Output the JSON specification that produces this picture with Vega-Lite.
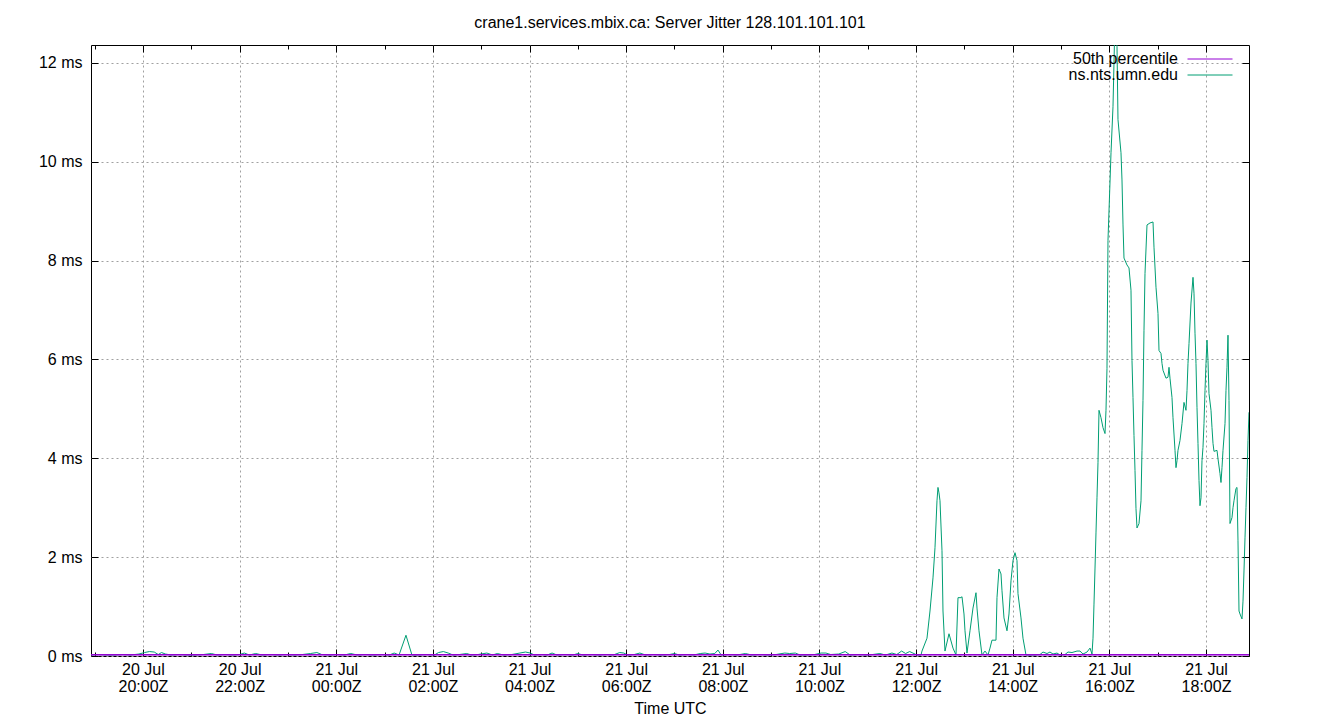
{
 "$schema": "https://vega.github.io/schema/vega-lite/v6.json",
 "width": 1158,
 "height": 611,
 "autosize": "none",
 "padding": {"left": 91, "top": 45, "right": 91, "bottom": 64},
 "background": "white",
 "title": {"text": "crane1.services.mbix.ca: Server Jitter 128.101.101.101", "font": "Liberation Sans", "fontSize": 16, "fontWeight": "normal", "anchor": "middle", "offset": 14, "color": "black"},
 "config": {
  "view": {"stroke": "black", "strokeWidth": 1},
  "font": "Liberation Sans",
  "axis": {"labelFont": "Liberation Sans", "labelFontSize": 16, "labelColor": "black", "titleFont": "Liberation Sans", "titleFontSize": 16, "titleFontWeight": "normal", "titleColor": "black", "tickColor": "black", "domain": false, "labelFlush": false, "labelOverlap": false, "labelBound": false}
 },
 "datasets": {
  "jitter": [
   {"t": "2021-07-20T18:56:00Z", "v": 0.02, "s": "ns.nts.umn.edu"},
   {"t": "2021-07-20T19:05:00Z", "v": 0.03, "s": "ns.nts.umn.edu"},
   {"t": "2021-07-20T19:15:00Z", "v": 0.02, "s": "ns.nts.umn.edu"},
   {"t": "2021-07-20T19:25:00Z", "v": 0.02, "s": "ns.nts.umn.edu"},
   {"t": "2021-07-20T19:35:00Z", "v": 0.03, "s": "ns.nts.umn.edu"},
   {"t": "2021-07-20T19:45:00Z", "v": 0.02, "s": "ns.nts.umn.edu"},
   {"t": "2021-07-20T19:55:00Z", "v": 0.04, "s": "ns.nts.umn.edu"},
   {"t": "2021-07-20T20:02:00Z", "v": 0.07, "s": "ns.nts.umn.edu"},
   {"t": "2021-07-20T20:08:00Z", "v": 0.09, "s": "ns.nts.umn.edu"},
   {"t": "2021-07-20T20:14:00Z", "v": 0.08, "s": "ns.nts.umn.edu"},
   {"t": "2021-07-20T20:19:00Z", "v": 0.03, "s": "ns.nts.umn.edu"},
   {"t": "2021-07-20T20:23:00Z", "v": 0.07, "s": "ns.nts.umn.edu"},
   {"t": "2021-07-20T20:28:00Z", "v": 0.04, "s": "ns.nts.umn.edu"},
   {"t": "2021-07-20T20:35:00Z", "v": 0.02, "s": "ns.nts.umn.edu"},
   {"t": "2021-07-20T20:45:00Z", "v": 0.03, "s": "ns.nts.umn.edu"},
   {"t": "2021-07-20T20:55:00Z", "v": 0.02, "s": "ns.nts.umn.edu"},
   {"t": "2021-07-20T21:05:00Z", "v": 0.02, "s": "ns.nts.umn.edu"},
   {"t": "2021-07-20T21:15:00Z", "v": 0.03, "s": "ns.nts.umn.edu"},
   {"t": "2021-07-20T21:25:00Z", "v": 0.05, "s": "ns.nts.umn.edu"},
   {"t": "2021-07-20T21:32:00Z", "v": 0.02, "s": "ns.nts.umn.edu"},
   {"t": "2021-07-20T21:42:00Z", "v": 0.03, "s": "ns.nts.umn.edu"},
   {"t": "2021-07-20T21:52:00Z", "v": 0.02, "s": "ns.nts.umn.edu"},
   {"t": "2021-07-20T22:00:00Z", "v": 0.03, "s": "ns.nts.umn.edu"},
   {"t": "2021-07-20T22:06:00Z", "v": 0.06, "s": "ns.nts.umn.edu"},
   {"t": "2021-07-20T22:12:00Z", "v": 0.02, "s": "ns.nts.umn.edu"},
   {"t": "2021-07-20T22:20:00Z", "v": 0.05, "s": "ns.nts.umn.edu"},
   {"t": "2021-07-20T22:28:00Z", "v": 0.02, "s": "ns.nts.umn.edu"},
   {"t": "2021-07-20T22:38:00Z", "v": 0.03, "s": "ns.nts.umn.edu"},
   {"t": "2021-07-20T22:48:00Z", "v": 0.02, "s": "ns.nts.umn.edu"},
   {"t": "2021-07-20T22:58:00Z", "v": 0.03, "s": "ns.nts.umn.edu"},
   {"t": "2021-07-20T23:08:00Z", "v": 0.02, "s": "ns.nts.umn.edu"},
   {"t": "2021-07-20T23:18:00Z", "v": 0.03, "s": "ns.nts.umn.edu"},
   {"t": "2021-07-20T23:28:00Z", "v": 0.05, "s": "ns.nts.umn.edu"},
   {"t": "2021-07-20T23:36:00Z", "v": 0.07, "s": "ns.nts.umn.edu"},
   {"t": "2021-07-20T23:42:00Z", "v": 0.03, "s": "ns.nts.umn.edu"},
   {"t": "2021-07-20T23:52:00Z", "v": 0.02, "s": "ns.nts.umn.edu"},
   {"t": "2021-07-21T00:02:00Z", "v": 0.03, "s": "ns.nts.umn.edu"},
   {"t": "2021-07-21T00:10:00Z", "v": 0.02, "s": "ns.nts.umn.edu"},
   {"t": "2021-07-21T00:18:00Z", "v": 0.05, "s": "ns.nts.umn.edu"},
   {"t": "2021-07-21T00:26:00Z", "v": 0.02, "s": "ns.nts.umn.edu"},
   {"t": "2021-07-21T00:36:00Z", "v": 0.03, "s": "ns.nts.umn.edu"},
   {"t": "2021-07-21T00:46:00Z", "v": 0.02, "s": "ns.nts.umn.edu"},
   {"t": "2021-07-21T00:56:00Z", "v": 0.03, "s": "ns.nts.umn.edu"},
   {"t": "2021-07-21T01:06:00Z", "v": 0.02, "s": "ns.nts.umn.edu"},
   {"t": "2021-07-21T01:12:00Z", "v": 0.06, "s": "ns.nts.umn.edu"},
   {"t": "2021-07-21T01:18:00Z", "v": 0.02, "s": "ns.nts.umn.edu"},
   {"t": "2021-07-21T01:26:36Z", "v": 0.42, "s": "ns.nts.umn.edu"},
   {"t": "2021-07-21T01:34:00Z", "v": 0.02, "s": "ns.nts.umn.edu"},
   {"t": "2021-07-21T01:42:00Z", "v": 0.02, "s": "ns.nts.umn.edu"},
   {"t": "2021-07-21T01:52:00Z", "v": 0.03, "s": "ns.nts.umn.edu"},
   {"t": "2021-07-21T02:02:00Z", "v": 0.02, "s": "ns.nts.umn.edu"},
   {"t": "2021-07-21T02:07:00Z", "v": 0.07, "s": "ns.nts.umn.edu"},
   {"t": "2021-07-21T02:13:00Z", "v": 0.09, "s": "ns.nts.umn.edu"},
   {"t": "2021-07-21T02:19:00Z", "v": 0.06, "s": "ns.nts.umn.edu"},
   {"t": "2021-07-21T02:25:00Z", "v": 0.02, "s": "ns.nts.umn.edu"},
   {"t": "2021-07-21T02:33:00Z", "v": 0.03, "s": "ns.nts.umn.edu"},
   {"t": "2021-07-21T02:42:00Z", "v": 0.05, "s": "ns.nts.umn.edu"},
   {"t": "2021-07-21T02:48:00Z", "v": 0.02, "s": "ns.nts.umn.edu"},
   {"t": "2021-07-21T02:56:00Z", "v": 0.03, "s": "ns.nts.umn.edu"},
   {"t": "2021-07-21T03:07:00Z", "v": 0.06, "s": "ns.nts.umn.edu"},
   {"t": "2021-07-21T03:14:00Z", "v": 0.02, "s": "ns.nts.umn.edu"},
   {"t": "2021-07-21T03:20:00Z", "v": 0.05, "s": "ns.nts.umn.edu"},
   {"t": "2021-07-21T03:28:00Z", "v": 0.02, "s": "ns.nts.umn.edu"},
   {"t": "2021-07-21T03:38:00Z", "v": 0.03, "s": "ns.nts.umn.edu"},
   {"t": "2021-07-21T03:48:00Z", "v": 0.06, "s": "ns.nts.umn.edu"},
   {"t": "2021-07-21T03:55:00Z", "v": 0.08, "s": "ns.nts.umn.edu"},
   {"t": "2021-07-21T04:01:00Z", "v": 0.06, "s": "ns.nts.umn.edu"},
   {"t": "2021-07-21T04:06:00Z", "v": 0.02, "s": "ns.nts.umn.edu"},
   {"t": "2021-07-21T04:15:00Z", "v": 0.03, "s": "ns.nts.umn.edu"},
   {"t": "2021-07-21T04:22:00Z", "v": 0.02, "s": "ns.nts.umn.edu"},
   {"t": "2021-07-21T04:28:00Z", "v": 0.06, "s": "ns.nts.umn.edu"},
   {"t": "2021-07-21T04:34:00Z", "v": 0.02, "s": "ns.nts.umn.edu"},
   {"t": "2021-07-21T04:44:00Z", "v": 0.03, "s": "ns.nts.umn.edu"},
   {"t": "2021-07-21T04:54:00Z", "v": 0.02, "s": "ns.nts.umn.edu"},
   {"t": "2021-07-21T05:00:00Z", "v": 0.05, "s": "ns.nts.umn.edu"},
   {"t": "2021-07-21T05:06:00Z", "v": 0.02, "s": "ns.nts.umn.edu"},
   {"t": "2021-07-21T05:16:00Z", "v": 0.03, "s": "ns.nts.umn.edu"},
   {"t": "2021-07-21T05:26:00Z", "v": 0.02, "s": "ns.nts.umn.edu"},
   {"t": "2021-07-21T05:36:00Z", "v": 0.03, "s": "ns.nts.umn.edu"},
   {"t": "2021-07-21T05:44:00Z", "v": 0.02, "s": "ns.nts.umn.edu"},
   {"t": "2021-07-21T05:52:00Z", "v": 0.07, "s": "ns.nts.umn.edu"},
   {"t": "2021-07-21T05:57:00Z", "v": 0.06, "s": "ns.nts.umn.edu"},
   {"t": "2021-07-21T06:02:00Z", "v": 0.02, "s": "ns.nts.umn.edu"},
   {"t": "2021-07-21T06:10:00Z", "v": 0.03, "s": "ns.nts.umn.edu"},
   {"t": "2021-07-21T06:17:00Z", "v": 0.06, "s": "ns.nts.umn.edu"},
   {"t": "2021-07-21T06:24:00Z", "v": 0.02, "s": "ns.nts.umn.edu"},
   {"t": "2021-07-21T06:34:00Z", "v": 0.03, "s": "ns.nts.umn.edu"},
   {"t": "2021-07-21T06:44:00Z", "v": 0.02, "s": "ns.nts.umn.edu"},
   {"t": "2021-07-21T06:54:00Z", "v": 0.03, "s": "ns.nts.umn.edu"},
   {"t": "2021-07-21T07:00:00Z", "v": 0.05, "s": "ns.nts.umn.edu"},
   {"t": "2021-07-21T07:06:00Z", "v": 0.02, "s": "ns.nts.umn.edu"},
   {"t": "2021-07-21T07:16:00Z", "v": 0.03, "s": "ns.nts.umn.edu"},
   {"t": "2021-07-21T07:24:00Z", "v": 0.02, "s": "ns.nts.umn.edu"},
   {"t": "2021-07-21T07:32:00Z", "v": 0.05, "s": "ns.nts.umn.edu"},
   {"t": "2021-07-21T07:38:00Z", "v": 0.06, "s": "ns.nts.umn.edu"},
   {"t": "2021-07-21T07:44:00Z", "v": 0.04, "s": "ns.nts.umn.edu"},
   {"t": "2021-07-21T07:50:00Z", "v": 0.05, "s": "ns.nts.umn.edu"},
   {"t": "2021-07-21T07:54:00Z", "v": 0.12, "s": "ns.nts.umn.edu"},
   {"t": "2021-07-21T07:58:00Z", "v": 0.02, "s": "ns.nts.umn.edu"},
   {"t": "2021-07-21T08:08:00Z", "v": 0.03, "s": "ns.nts.umn.edu"},
   {"t": "2021-07-21T08:18:00Z", "v": 0.02, "s": "ns.nts.umn.edu"},
   {"t": "2021-07-21T08:28:00Z", "v": 0.05, "s": "ns.nts.umn.edu"},
   {"t": "2021-07-21T08:36:00Z", "v": 0.02, "s": "ns.nts.umn.edu"},
   {"t": "2021-07-21T08:46:00Z", "v": 0.03, "s": "ns.nts.umn.edu"},
   {"t": "2021-07-21T08:56:00Z", "v": 0.02, "s": "ns.nts.umn.edu"},
   {"t": "2021-07-21T09:06:00Z", "v": 0.03, "s": "ns.nts.umn.edu"},
   {"t": "2021-07-21T09:17:00Z", "v": 0.06, "s": "ns.nts.umn.edu"},
   {"t": "2021-07-21T09:23:00Z", "v": 0.05, "s": "ns.nts.umn.edu"},
   {"t": "2021-07-21T09:30:00Z", "v": 0.06, "s": "ns.nts.umn.edu"},
   {"t": "2021-07-21T09:36:00Z", "v": 0.02, "s": "ns.nts.umn.edu"},
   {"t": "2021-07-21T09:44:00Z", "v": 0.02, "s": "ns.nts.umn.edu"},
   {"t": "2021-07-21T09:54:00Z", "v": 0.03, "s": "ns.nts.umn.edu"},
   {"t": "2021-07-21T10:02:00Z", "v": 0.06, "s": "ns.nts.umn.edu"},
   {"t": "2021-07-21T10:08:00Z", "v": 0.06, "s": "ns.nts.umn.edu"},
   {"t": "2021-07-21T10:14:00Z", "v": 0.03, "s": "ns.nts.umn.edu"},
   {"t": "2021-07-21T10:24:00Z", "v": 0.04, "s": "ns.nts.umn.edu"},
   {"t": "2021-07-21T10:32:00Z", "v": 0.09, "s": "ns.nts.umn.edu"},
   {"t": "2021-07-21T10:38:00Z", "v": 0.02, "s": "ns.nts.umn.edu"},
   {"t": "2021-07-21T10:48:00Z", "v": 0.03, "s": "ns.nts.umn.edu"},
   {"t": "2021-07-21T10:58:00Z", "v": 0.02, "s": "ns.nts.umn.edu"},
   {"t": "2021-07-21T11:06:00Z", "v": 0.03, "s": "ns.nts.umn.edu"},
   {"t": "2021-07-21T11:15:00Z", "v": 0.05, "s": "ns.nts.umn.edu"},
   {"t": "2021-07-21T11:22:00Z", "v": 0.02, "s": "ns.nts.umn.edu"},
   {"t": "2021-07-21T11:30:00Z", "v": 0.06, "s": "ns.nts.umn.edu"},
   {"t": "2021-07-21T11:36:00Z", "v": 0.03, "s": "ns.nts.umn.edu"},
   {"t": "2021-07-21T11:42:00Z", "v": 0.10, "s": "ns.nts.umn.edu"},
   {"t": "2021-07-21T11:47:00Z", "v": 0.05, "s": "ns.nts.umn.edu"},
   {"t": "2021-07-21T11:52:00Z", "v": 0.09, "s": "ns.nts.umn.edu"},
   {"t": "2021-07-21T11:56:00Z", "v": 0.06, "s": "ns.nts.umn.edu"},
   {"t": "2021-07-21T12:01:07Z", "v": 0.02, "s": "ns.nts.umn.edu"},
   {"t": "2021-07-21T12:06:05Z", "v": 0.02, "s": "ns.nts.umn.edu"},
   {"t": "2021-07-21T12:07:20Z", "v": 0.10, "s": "ns.nts.umn.edu"},
   {"t": "2021-07-21T12:13:32Z", "v": 0.36, "s": "ns.nts.umn.edu"},
   {"t": "2021-07-21T12:17:16Z", "v": 0.91, "s": "ns.nts.umn.edu"},
   {"t": "2021-07-21T12:20:59Z", "v": 1.58, "s": "ns.nts.umn.edu"},
   {"t": "2021-07-21T12:23:28Z", "v": 2.19, "s": "ns.nts.umn.edu"},
   {"t": "2021-07-21T12:25:57Z", "v": 3.14, "s": "ns.nts.umn.edu"},
   {"t": "2021-07-21T12:27:11Z", "v": 3.41, "s": "ns.nts.umn.edu"},
   {"t": "2021-07-21T12:28:26Z", "v": 3.30, "s": "ns.nts.umn.edu"},
   {"t": "2021-07-21T12:29:41Z", "v": 3.14, "s": "ns.nts.umn.edu"},
   {"t": "2021-07-21T12:32:10Z", "v": 2.13, "s": "ns.nts.umn.edu"},
   {"t": "2021-07-21T12:33:24Z", "v": 0.91, "s": "ns.nts.umn.edu"},
   {"t": "2021-07-21T12:35:53Z", "v": 0.10, "s": "ns.nts.umn.edu"},
   {"t": "2021-07-21T12:40:51Z", "v": 0.45, "s": "ns.nts.umn.edu"},
   {"t": "2021-07-21T12:45:49Z", "v": 0.16, "s": "ns.nts.umn.edu"},
   {"t": "2021-07-21T12:49:33Z", "v": 0.02, "s": "ns.nts.umn.edu"},
   {"t": "2021-07-21T12:52:02Z", "v": 1.18, "s": "ns.nts.umn.edu"},
   {"t": "2021-07-21T12:55:45Z", "v": 1.18, "s": "ns.nts.umn.edu"},
   {"t": "2021-07-21T12:57:00Z", "v": 1.20, "s": "ns.nts.umn.edu"},
   {"t": "2021-07-21T12:59:29Z", "v": 0.85, "s": "ns.nts.umn.edu"},
   {"t": "2021-07-21T13:00:43Z", "v": 0.51, "s": "ns.nts.umn.edu"},
   {"t": "2021-07-21T13:03:12Z", "v": 0.06, "s": "ns.nts.umn.edu"},
   {"t": "2021-07-21T13:06:56Z", "v": 0.51, "s": "ns.nts.umn.edu"},
   {"t": "2021-07-21T13:10:39Z", "v": 0.97, "s": "ns.nts.umn.edu"},
   {"t": "2021-07-21T13:14:23Z", "v": 1.28, "s": "ns.nts.umn.edu"},
   {"t": "2021-07-21T13:15:37Z", "v": 0.97, "s": "ns.nts.umn.edu"},
   {"t": "2021-07-21T13:18:06Z", "v": 0.51, "s": "ns.nts.umn.edu"},
   {"t": "2021-07-21T13:21:50Z", "v": 0.02, "s": "ns.nts.umn.edu"},
   {"t": "2021-07-21T13:25:33Z", "v": 0.10, "s": "ns.nts.umn.edu"},
   {"t": "2021-07-21T13:29:17Z", "v": 0.02, "s": "ns.nts.umn.edu"},
   {"t": "2021-07-21T13:31:46Z", "v": 0.16, "s": "ns.nts.umn.edu"},
   {"t": "2021-07-21T13:34:14Z", "v": 0.32, "s": "ns.nts.umn.edu"},
   {"t": "2021-07-21T13:39:13Z", "v": 0.32, "s": "ns.nts.umn.edu"},
   {"t": "2021-07-21T13:40:27Z", "v": 1.18, "s": "ns.nts.umn.edu"},
   {"t": "2021-07-21T13:42:56Z", "v": 1.76, "s": "ns.nts.umn.edu"},
   {"t": "2021-07-21T13:45:25Z", "v": 1.66, "s": "ns.nts.umn.edu"},
   {"t": "2021-07-21T13:46:40Z", "v": 1.32, "s": "ns.nts.umn.edu"},
   {"t": "2021-07-21T13:49:09Z", "v": 0.77, "s": "ns.nts.umn.edu"},
   {"t": "2021-07-21T13:52:52Z", "v": 0.51, "s": "ns.nts.umn.edu"},
   {"t": "2021-07-21T13:55:21Z", "v": 0.85, "s": "ns.nts.umn.edu"},
   {"t": "2021-07-21T13:57:50Z", "v": 1.52, "s": "ns.nts.umn.edu"},
   {"t": "2021-07-21T14:00:19Z", "v": 1.93, "s": "ns.nts.umn.edu"},
   {"t": "2021-07-21T14:02:48Z", "v": 2.09, "s": "ns.nts.umn.edu"},
   {"t": "2021-07-21T14:05:17Z", "v": 1.93, "s": "ns.nts.umn.edu"},
   {"t": "2021-07-21T14:06:32Z", "v": 1.26, "s": "ns.nts.umn.edu"},
   {"t": "2021-07-21T14:10:15Z", "v": 0.77, "s": "ns.nts.umn.edu"},
   {"t": "2021-07-21T14:12:44Z", "v": 0.36, "s": "ns.nts.umn.edu"},
   {"t": "2021-07-21T14:16:28Z", "v": 0.02, "s": "ns.nts.umn.edu"},
   {"t": "2021-07-21T14:21:26Z", "v": 0.02, "s": "ns.nts.umn.edu"},
   {"t": "2021-07-21T14:27:38Z", "v": 0.02, "s": "ns.nts.umn.edu"},
   {"t": "2021-07-21T14:33:51Z", "v": 0.03, "s": "ns.nts.umn.edu"},
   {"t": "2021-07-21T14:37:34Z", "v": 0.08, "s": "ns.nts.umn.edu"},
   {"t": "2021-07-21T14:42:32Z", "v": 0.05, "s": "ns.nts.umn.edu"},
   {"t": "2021-07-21T14:46:16Z", "v": 0.08, "s": "ns.nts.umn.edu"},
   {"t": "2021-07-21T14:49:59Z", "v": 0.04, "s": "ns.nts.umn.edu"},
   {"t": "2021-07-21T14:54:58Z", "v": 0.06, "s": "ns.nts.umn.edu"},
   {"t": "2021-07-21T14:58:41Z", "v": 0.02, "s": "ns.nts.umn.edu"},
   {"t": "2021-07-21T15:04:53Z", "v": 0.03, "s": "ns.nts.umn.edu"},
   {"t": "2021-07-21T15:08:37Z", "v": 0.08, "s": "ns.nts.umn.edu"},
   {"t": "2021-07-21T15:13:35Z", "v": 0.07, "s": "ns.nts.umn.edu"},
   {"t": "2021-07-21T15:19:47Z", "v": 0.10, "s": "ns.nts.umn.edu"},
   {"t": "2021-07-21T15:23:31Z", "v": 0.10, "s": "ns.nts.umn.edu"},
   {"t": "2021-07-21T15:27:14Z", "v": 0.04, "s": "ns.nts.umn.edu"},
   {"t": "2021-07-21T15:32:13Z", "v": 0.08, "s": "ns.nts.umn.edu"},
   {"t": "2021-07-21T15:35:56Z", "v": 0.16, "s": "ns.nts.umn.edu"},
   {"t": "2021-07-21T15:38:25Z", "v": 0.04, "s": "ns.nts.umn.edu"},
   {"t": "2021-07-21T15:39:40Z", "v": 0.36, "s": "ns.nts.umn.edu"},
   {"t": "2021-07-21T15:40:54Z", "v": 1.05, "s": "ns.nts.umn.edu"},
   {"t": "2021-07-21T15:42:08Z", "v": 1.76, "s": "ns.nts.umn.edu"},
   {"t": "2021-07-21T15:43:23Z", "v": 2.49, "s": "ns.nts.umn.edu"},
   {"t": "2021-07-21T15:44:37Z", "v": 3.20, "s": "ns.nts.umn.edu"},
   {"t": "2021-07-21T15:45:52Z", "v": 3.91, "s": "ns.nts.umn.edu"},
   {"t": "2021-07-21T15:47:07Z", "v": 4.97, "s": "ns.nts.umn.edu"},
   {"t": "2021-07-21T15:49:35Z", "v": 4.82, "s": "ns.nts.umn.edu"},
   {"t": "2021-07-21T15:52:04Z", "v": 4.62, "s": "ns.nts.umn.edu"},
   {"t": "2021-07-21T15:54:34Z", "v": 4.50, "s": "ns.nts.umn.edu"},
   {"t": "2021-07-21T15:55:48Z", "v": 4.97, "s": "ns.nts.umn.edu"},
   {"t": "2021-07-21T15:57:02Z", "v": 5.82, "s": "ns.nts.umn.edu"},
   {"t": "2021-07-21T15:58:17Z", "v": 8.41, "s": "ns.nts.umn.edu"},
   {"t": "2021-07-21T16:02:01Z", "v": 10.18, "s": "ns.nts.umn.edu"},
   {"t": "2021-07-21T16:04:29Z", "v": 11.11, "s": "ns.nts.umn.edu"},
   {"t": "2021-07-21T16:06:58Z", "v": 12.9, "s": "ns.nts.umn.edu"},
   {"t": "2021-07-21T16:09:28Z", "v": 12.33, "s": "ns.nts.umn.edu"},
   {"t": "2021-07-21T16:10:42Z", "v": 10.85, "s": "ns.nts.umn.edu"},
   {"t": "2021-07-21T16:14:25Z", "v": 10.18, "s": "ns.nts.umn.edu"},
   {"t": "2021-07-21T16:15:40Z", "v": 9.63, "s": "ns.nts.umn.edu"},
   {"t": "2021-07-21T16:16:55Z", "v": 8.72, "s": "ns.nts.umn.edu"},
   {"t": "2021-07-21T16:18:09Z", "v": 8.05, "s": "ns.nts.umn.edu"},
   {"t": "2021-07-21T16:21:52Z", "v": 7.91, "s": "ns.nts.umn.edu"},
   {"t": "2021-07-21T16:24:22Z", "v": 7.85, "s": "ns.nts.umn.edu"},
   {"t": "2021-07-21T16:26:50Z", "v": 7.40, "s": "ns.nts.umn.edu"},
   {"t": "2021-07-21T16:28:05Z", "v": 5.98, "s": "ns.nts.umn.edu"},
   {"t": "2021-07-21T16:29:19Z", "v": 5.23, "s": "ns.nts.umn.edu"},
   {"t": "2021-07-21T16:30:34Z", "v": 4.46, "s": "ns.nts.umn.edu"},
   {"t": "2021-07-21T16:31:49Z", "v": 3.75, "s": "ns.nts.umn.edu"},
   {"t": "2021-07-21T16:33:03Z", "v": 2.98, "s": "ns.nts.umn.edu"},
   {"t": "2021-07-21T16:34:17Z", "v": 2.59, "s": "ns.nts.umn.edu"},
   {"t": "2021-07-21T16:36:47Z", "v": 2.68, "s": "ns.nts.umn.edu"},
   {"t": "2021-07-21T16:39:16Z", "v": 3.14, "s": "ns.nts.umn.edu"},
   {"t": "2021-07-21T16:40:30Z", "v": 4.16, "s": "ns.nts.umn.edu"},
   {"t": "2021-07-21T16:41:44Z", "v": 5.17, "s": "ns.nts.umn.edu"},
   {"t": "2021-07-21T16:42:59Z", "v": 6.59, "s": "ns.nts.umn.edu"},
   {"t": "2021-07-21T16:44:14Z", "v": 7.74, "s": "ns.nts.umn.edu"},
   {"t": "2021-07-21T16:46:43Z", "v": 8.72, "s": "ns.nts.umn.edu"},
   {"t": "2021-07-21T16:50:26Z", "v": 8.76, "s": "ns.nts.umn.edu"},
   {"t": "2021-07-21T16:54:10Z", "v": 8.78, "s": "ns.nts.umn.edu"},
   {"t": "2021-07-21T16:55:24Z", "v": 8.27, "s": "ns.nts.umn.edu"},
   {"t": "2021-07-21T16:57:53Z", "v": 7.46, "s": "ns.nts.umn.edu"},
   {"t": "2021-07-21T17:00:22Z", "v": 6.93, "s": "ns.nts.umn.edu"},
   {"t": "2021-07-21T17:01:37Z", "v": 6.18, "s": "ns.nts.umn.edu"},
   {"t": "2021-07-21T17:04:05Z", "v": 6.12, "s": "ns.nts.umn.edu"},
   {"t": "2021-07-21T17:05:20Z", "v": 5.92, "s": "ns.nts.umn.edu"},
   {"t": "2021-07-21T17:06:35Z", "v": 5.78, "s": "ns.nts.umn.edu"},
   {"t": "2021-07-21T17:10:18Z", "v": 5.62, "s": "ns.nts.umn.edu"},
   {"t": "2021-07-21T17:12:47Z", "v": 5.64, "s": "ns.nts.umn.edu"},
   {"t": "2021-07-21T17:14:02Z", "v": 5.84, "s": "ns.nts.umn.edu"},
   {"t": "2021-07-21T17:15:16Z", "v": 5.62, "s": "ns.nts.umn.edu"},
   {"t": "2021-07-21T17:17:45Z", "v": 5.23, "s": "ns.nts.umn.edu"},
   {"t": "2021-07-21T17:18:59Z", "v": 4.82, "s": "ns.nts.umn.edu"},
   {"t": "2021-07-21T17:21:29Z", "v": 4.16, "s": "ns.nts.umn.edu"},
   {"t": "2021-07-21T17:22:43Z", "v": 3.81, "s": "ns.nts.umn.edu"},
   {"t": "2021-07-21T17:23:58Z", "v": 3.95, "s": "ns.nts.umn.edu"},
   {"t": "2021-07-21T17:25:12Z", "v": 4.16, "s": "ns.nts.umn.edu"},
   {"t": "2021-07-21T17:27:41Z", "v": 4.36, "s": "ns.nts.umn.edu"},
   {"t": "2021-07-21T17:30:10Z", "v": 4.70, "s": "ns.nts.umn.edu"},
   {"t": "2021-07-21T17:32:39Z", "v": 5.13, "s": "ns.nts.umn.edu"},
   {"t": "2021-07-21T17:35:08Z", "v": 4.97, "s": "ns.nts.umn.edu"},
   {"t": "2021-07-21T17:36:23Z", "v": 5.37, "s": "ns.nts.umn.edu"},
   {"t": "2021-07-21T17:37:37Z", "v": 5.92, "s": "ns.nts.umn.edu"},
   {"t": "2021-07-21T17:38:52Z", "v": 6.32, "s": "ns.nts.umn.edu"},
   {"t": "2021-07-21T17:41:20Z", "v": 7.14, "s": "ns.nts.umn.edu"},
   {"t": "2021-07-21T17:43:50Z", "v": 7.66, "s": "ns.nts.umn.edu"},
   {"t": "2021-07-21T17:45:04Z", "v": 7.34, "s": "ns.nts.umn.edu"},
   {"t": "2021-07-21T17:46:19Z", "v": 6.53, "s": "ns.nts.umn.edu"},
   {"t": "2021-07-21T17:47:33Z", "v": 5.92, "s": "ns.nts.umn.edu"},
   {"t": "2021-07-21T17:48:47Z", "v": 5.03, "s": "ns.nts.umn.edu"},
   {"t": "2021-07-21T17:50:02Z", "v": 4.30, "s": "ns.nts.umn.edu"},
   {"t": "2021-07-21T17:51:17Z", "v": 3.55, "s": "ns.nts.umn.edu"},
   {"t": "2021-07-21T17:52:31Z", "v": 3.04, "s": "ns.nts.umn.edu"},
   {"t": "2021-07-21T17:53:46Z", "v": 3.20, "s": "ns.nts.umn.edu"},
   {"t": "2021-07-21T17:55:00Z", "v": 3.95, "s": "ns.nts.umn.edu"},
   {"t": "2021-07-21T17:56:14Z", "v": 4.22, "s": "ns.nts.umn.edu"},
   {"t": "2021-07-21T17:57:29Z", "v": 4.70, "s": "ns.nts.umn.edu"},
   {"t": "2021-07-21T17:58:44Z", "v": 5.37, "s": "ns.nts.umn.edu"},
   {"t": "2021-07-21T17:59:58Z", "v": 5.92, "s": "ns.nts.umn.edu"},
   {"t": "2021-07-21T18:01:13Z", "v": 6.39, "s": "ns.nts.umn.edu"},
   {"t": "2021-07-21T18:02:27Z", "v": 5.98, "s": "ns.nts.umn.edu"},
   {"t": "2021-07-21T18:03:41Z", "v": 5.31, "s": "ns.nts.umn.edu"},
   {"t": "2021-07-21T18:06:11Z", "v": 4.97, "s": "ns.nts.umn.edu"},
   {"t": "2021-07-21T18:07:25Z", "v": 4.62, "s": "ns.nts.umn.edu"},
   {"t": "2021-07-21T18:08:40Z", "v": 4.30, "s": "ns.nts.umn.edu"},
   {"t": "2021-07-21T18:09:54Z", "v": 4.14, "s": "ns.nts.umn.edu"},
   {"t": "2021-07-21T18:13:38Z", "v": 4.16, "s": "ns.nts.umn.edu"},
   {"t": "2021-07-21T18:14:52Z", "v": 3.99, "s": "ns.nts.umn.edu"},
   {"t": "2021-07-21T18:17:21Z", "v": 3.69, "s": "ns.nts.umn.edu"},
   {"t": "2021-07-21T18:18:35Z", "v": 3.51, "s": "ns.nts.umn.edu"},
   {"t": "2021-07-21T18:19:50Z", "v": 3.81, "s": "ns.nts.umn.edu"},
   {"t": "2021-07-21T18:21:05Z", "v": 4.16, "s": "ns.nts.umn.edu"},
   {"t": "2021-07-21T18:23:34Z", "v": 4.70, "s": "ns.nts.umn.edu"},
   {"t": "2021-07-21T18:24:48Z", "v": 5.37, "s": "ns.nts.umn.edu"},
   {"t": "2021-07-21T18:26:02Z", "v": 5.84, "s": "ns.nts.umn.edu"},
   {"t": "2021-07-21T18:27:17Z", "v": 6.49, "s": "ns.nts.umn.edu"},
   {"t": "2021-07-21T18:28:32Z", "v": 5.17, "s": "ns.nts.umn.edu"},
   {"t": "2021-07-21T18:29:46Z", "v": 2.68, "s": "ns.nts.umn.edu"},
   {"t": "2021-07-21T18:32:15Z", "v": 2.80, "s": "ns.nts.umn.edu"},
   {"t": "2021-07-21T18:33:30Z", "v": 3.00, "s": "ns.nts.umn.edu"},
   {"t": "2021-07-21T18:34:44Z", "v": 3.14, "s": "ns.nts.umn.edu"},
   {"t": "2021-07-21T18:37:13Z", "v": 3.39, "s": "ns.nts.umn.edu"},
   {"t": "2021-07-21T18:38:28Z", "v": 3.41, "s": "ns.nts.umn.edu"},
   {"t": "2021-07-21T18:39:42Z", "v": 2.33, "s": "ns.nts.umn.edu"},
   {"t": "2021-07-21T18:40:57Z", "v": 0.91, "s": "ns.nts.umn.edu"},
   {"t": "2021-07-21T18:42:11Z", "v": 0.85, "s": "ns.nts.umn.edu"},
   {"t": "2021-07-21T18:44:40Z", "v": 0.75, "s": "ns.nts.umn.edu"},
   {"t": "2021-07-21T18:45:55Z", "v": 1.11, "s": "ns.nts.umn.edu"},
   {"t": "2021-07-21T18:47:09Z", "v": 1.72, "s": "ns.nts.umn.edu"},
   {"t": "2021-07-21T18:48:24Z", "v": 2.39, "s": "ns.nts.umn.edu"},
   {"t": "2021-07-21T18:49:38Z", "v": 3.00, "s": "ns.nts.umn.edu"},
   {"t": "2021-07-21T18:50:53Z", "v": 3.61, "s": "ns.nts.umn.edu"},
   {"t": "2021-07-21T18:52:07Z", "v": 4.36, "s": "ns.nts.umn.edu"},
   {"t": "2021-07-21T18:53:22Z", "v": 4.93, "s": "ns.nts.umn.edu"}
  ],
  "med": [
   {"t": "2021-07-20T18:55:30Z", "v": 0.025, "s": "50th percentile"},
   {"t": "2021-07-21T18:53:22Z", "v": 0.025, "s": "50th percentile"}
  ]
 },
 "layer": [
  {
   "data": {"name": "jitter"},
   "mark": {"type": "line", "clip": true, "strokeWidth": 1},
   "encoding": {
    "x": {"field": "t", "type": "temporal",
     "scale": {"type": "utc", "domain": [{"year": 2021, "month": 7, "date": 20, "hours": 18, "minutes": 55, "seconds": 30, "utc": true}, {"year": 2021, "month": 7, "date": 21, "hours": 18, "minutes": 53, "seconds": 22, "utc": true}], "nice": false},
     "axis": {"orient": "bottom", "title": "Time UTC", "titlePadding": 6,
      "values": [
       {"year": 2021, "month": 7, "date": 20, "hours": 20, "utc": true},
       {"year": 2021, "month": 7, "date": 20, "hours": 22, "utc": true},
       {"year": 2021, "month": 7, "date": 21, "hours": 0, "utc": true},
       {"year": 2021, "month": 7, "date": 21, "hours": 2, "utc": true},
       {"year": 2021, "month": 7, "date": 21, "hours": 4, "utc": true},
       {"year": 2021, "month": 7, "date": 21, "hours": 6, "utc": true},
       {"year": 2021, "month": 7, "date": 21, "hours": 8, "utc": true},
       {"year": 2021, "month": 7, "date": 21, "hours": 10, "utc": true},
       {"year": 2021, "month": 7, "date": 21, "hours": 12, "utc": true},
       {"year": 2021, "month": 7, "date": 21, "hours": 14, "utc": true},
       {"year": 2021, "month": 7, "date": 21, "hours": 16, "utc": true},
       {"year": 2021, "month": 7, "date": 21, "hours": 18, "utc": true}
      ],
      "labelExpr": "[utcFormat(datum.value, '%d %b'), utcFormat(datum.value, '%H:%MZ')]",
      "labelLineHeight": 17, "labelPadding": 12,
      "tickSize": -7, "tickWidth": 1,
      "grid": true, "gridColor": "#a0a0a0", "gridDash": [2, 3], "gridWidth": 1}},
    "y": {"field": "v", "type": "quantitative",
     "scale": {"domain": [0, 12.36], "nice": false, "zero": true},
     "axis": {"orient": "left", "title": null, "values": [0, 2, 4, 6, 8, 10, 12],
      "labelExpr": "datum.value + ' ms'", "labelPadding": 16, "tickSize": -7,
      "grid": true, "gridColor": "#a0a0a0", "gridDash": [2, 3], "gridWidth": 1}},
    "color": {"field": "s", "type": "nominal",
     "scale": {"domain": ["50th percentile", "ns.nts.umn.edu"], "range": ["#9400d3", "#009e73"]},
     "legend": {"orient": "none", "legendX": 1111, "legendY": 6, "title": null,
      "symbolType": "M-3,0H3", "symbolSize": 225, "symbolStrokeWidth": 1,
      "labelAlign": "right", "labelOffset": -40, "labelFontSize": 16, "labelFont": "Liberation Sans", "labelColor": "black",
      "rowPadding": 0, "padding": 0, "labelLimit": 300}}
   }
  },
  {
   "data": {"name": "med"},
   "mark": {"type": "line", "clip": true, "strokeWidth": 1},
   "encoding": {
    "x": {"field": "t", "type": "temporal",
     "axis": {"orient": "top", "title": null, "labels": false, "grid": false, "tickSize": -7,
      "values": [
       {"year": 2021, "month": 7, "date": 20, "hours": 20, "utc": true},
       {"year": 2021, "month": 7, "date": 20, "hours": 22, "utc": true},
       {"year": 2021, "month": 7, "date": 21, "hours": 0, "utc": true},
       {"year": 2021, "month": 7, "date": 21, "hours": 2, "utc": true},
       {"year": 2021, "month": 7, "date": 21, "hours": 4, "utc": true},
       {"year": 2021, "month": 7, "date": 21, "hours": 6, "utc": true},
       {"year": 2021, "month": 7, "date": 21, "hours": 8, "utc": true},
       {"year": 2021, "month": 7, "date": 21, "hours": 10, "utc": true},
       {"year": 2021, "month": 7, "date": 21, "hours": 12, "utc": true},
       {"year": 2021, "month": 7, "date": 21, "hours": 14, "utc": true},
       {"year": 2021, "month": 7, "date": 21, "hours": 16, "utc": true},
       {"year": 2021, "month": 7, "date": 21, "hours": 18, "utc": true}
      ]}},
    "y": {"field": "v", "type": "quantitative",
     "axis": {"orient": "right", "title": null, "labels": false, "grid": false, "tickSize": -7, "values": [0, 2, 4, 6, 8, 10, 12]}},
    "color": {"field": "s", "type": "nominal"}
   }
  },
  {
   "data": {"name": "med"},
   "mark": {"type": "line", "clip": true, "strokeWidth": 1, "color": "#9400d3"},
   "encoding": {
    "x": {"field": "t", "type": "temporal",
     "axis": {"orient": "bottom", "title": null, "labels": false, "grid": false, "tickSize": -4,
      "values": [
       {"year": 2021, "month": 7, "date": 20, "hours": 19, "utc": true},
       {"year": 2021, "month": 7, "date": 20, "hours": 21, "utc": true},
       {"year": 2021, "month": 7, "date": 20, "hours": 23, "utc": true},
       {"year": 2021, "month": 7, "date": 21, "hours": 1, "utc": true},
       {"year": 2021, "month": 7, "date": 21, "hours": 3, "utc": true},
       {"year": 2021, "month": 7, "date": 21, "hours": 5, "utc": true},
       {"year": 2021, "month": 7, "date": 21, "hours": 7, "utc": true},
       {"year": 2021, "month": 7, "date": 21, "hours": 9, "utc": true},
       {"year": 2021, "month": 7, "date": 21, "hours": 11, "utc": true},
       {"year": 2021, "month": 7, "date": 21, "hours": 13, "utc": true},
       {"year": 2021, "month": 7, "date": 21, "hours": 15, "utc": true},
       {"year": 2021, "month": 7, "date": 21, "hours": 17, "utc": true}
      ]}},
    "y": {"field": "v", "type": "quantitative", "axis": null}
   }
  },
  {
   "data": {"name": "med"},
   "mark": {"type": "line", "clip": true, "strokeWidth": 1, "color": "#9400d3"},
   "encoding": {
    "x": {"field": "t", "type": "temporal",
     "axis": {"orient": "top", "title": null, "labels": false, "grid": false, "tickSize": -4,
      "values": [
       {"year": 2021, "month": 7, "date": 20, "hours": 19, "utc": true},
       {"year": 2021, "month": 7, "date": 20, "hours": 21, "utc": true},
       {"year": 2021, "month": 7, "date": 20, "hours": 23, "utc": true},
       {"year": 2021, "month": 7, "date": 21, "hours": 1, "utc": true},
       {"year": 2021, "month": 7, "date": 21, "hours": 3, "utc": true},
       {"year": 2021, "month": 7, "date": 21, "hours": 5, "utc": true},
       {"year": 2021, "month": 7, "date": 21, "hours": 7, "utc": true},
       {"year": 2021, "month": 7, "date": 21, "hours": 9, "utc": true},
       {"year": 2021, "month": 7, "date": 21, "hours": 11, "utc": true},
       {"year": 2021, "month": 7, "date": 21, "hours": 13, "utc": true},
       {"year": 2021, "month": 7, "date": 21, "hours": 15, "utc": true},
       {"year": 2021, "month": 7, "date": 21, "hours": 17, "utc": true}
      ]}},
    "y": {"field": "v", "type": "quantitative", "axis": null}
   }
  }
 ],
 "resolve": {"axis": {"x": "independent", "y": "independent"}}
}
